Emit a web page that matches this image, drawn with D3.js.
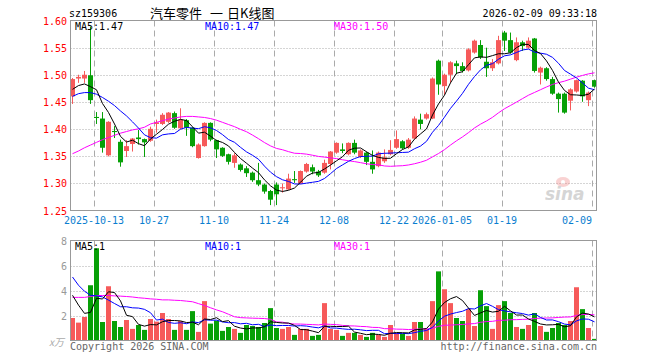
<!doctype html>
<html>
<head>
<meta charset="utf-8">
<script src="https://cdn.jsdelivr.net/npm/d3@7/dist/d3.min.js"></script>
<style>
  body { margin:0; background:#fff; }
  svg text { font-family:"DejaVu Sans Mono", monospace; font-size:10px; }
</style>
</head>
<body>
<div id="chart"></div>
<script>
// trading days shown (index 0 = 2025-09-29)
var dates = ["2025-09-29","2025-09-30","2025-10-09","2025-10-10",
  "2025-10-13","2025-10-14","2025-10-15","2025-10-16","2025-10-17",
  "2025-10-20","2025-10-21","2025-10-22","2025-10-23","2025-10-24",
  "2025-10-27","2025-10-28","2025-10-29","2025-10-30","2025-10-31",
  "2025-11-03","2025-11-04","2025-11-05","2025-11-06","2025-11-07",
  "2025-11-10","2025-11-11","2025-11-12","2025-11-13","2025-11-14",
  "2025-11-17","2025-11-18","2025-11-19","2025-11-20","2025-11-21",
  "2025-11-24","2025-11-25","2025-11-26","2025-11-27","2025-11-28",
  "2025-12-01","2025-12-02","2025-12-03","2025-12-04","2025-12-05",
  "2025-12-08","2025-12-09","2025-12-10","2025-12-11","2025-12-12",
  "2025-12-15","2025-12-16","2025-12-17","2025-12-18","2025-12-19",
  "2025-12-22","2025-12-23","2025-12-24","2025-12-25","2025-12-26",
  "2025-12-29","2025-12-30","2025-12-31",
  "2026-01-05","2026-01-06","2026-01-07","2026-01-08","2026-01-09",
  "2026-01-12","2026-01-13","2026-01-14","2026-01-15","2026-01-16",
  "2026-01-19","2026-01-20","2026-01-21","2026-01-22","2026-01-23",
  "2026-01-26","2026-01-27","2026-01-28","2026-01-29","2026-01-30",
  "2026-02-02","2026-02-03","2026-02-04","2026-02-05","2026-02-06",
  "2026-02-09"];

var open  = [1.461,1.494,1.494,1.500,1.423,1.420,1.352,1.397,1.377,1.360,
  1.373,1.385,1.382,1.379,1.410,1.410,1.414,1.430,1.402,1.417,
  1.403,1.347,1.369,1.412,1.380,1.366,1.354,1.338,1.335,1.328,
  1.320,1.306,1.298,1.286,1.298,1.291,1.289,1.308,1.300,1.322,
  1.330,1.322,1.320,1.336,1.357,1.363,1.354,1.375,1.349,1.357,
  1.340,1.332,1.341,1.354,1.366,1.378,1.366,1.383,1.418,1.420,
  1.420,1.527,1.480,1.501,1.522,1.517,1.509,1.542,1.556,1.525,
  1.513,1.522,1.579,1.565,1.528,1.561,1.551,1.568,1.505,1.513,
  1.493,1.466,1.466,1.453,1.470,1.490,1.454,1.491];
var close = [1.493,1.497,1.501,1.454,1.421,1.366,1.414,1.395,1.339,1.369,
  1.383,1.382,1.376,1.401,1.413,1.427,1.431,1.403,1.418,1.403,
  1.369,1.372,1.412,1.381,1.363,1.351,1.340,1.352,1.325,1.319,
  1.306,1.298,1.285,1.270,1.280,1.293,1.309,1.306,1.323,1.336,
  1.322,1.315,1.338,1.359,1.375,1.360,1.375,1.357,1.361,1.340,
  1.326,1.357,1.348,1.362,1.382,1.365,1.381,1.420,1.410,1.428,
  1.494,1.483,1.501,1.524,1.517,1.508,1.548,1.564,1.533,1.513,
  1.524,1.565,1.564,1.542,1.561,1.554,1.564,1.508,1.514,1.493,
  1.466,1.456,1.431,1.474,1.491,1.461,1.468,1.479];
var high  = [1.495,1.501,1.508,1.590,1.432,1.432,1.415,1.406,1.381,1.380,
  1.384,1.399,1.383,1.405,1.418,1.430,1.432,1.433,1.439,1.419,
  1.404,1.374,1.413,1.413,1.381,1.367,1.355,1.356,1.337,1.332,
  1.322,1.338,1.300,1.288,1.302,1.300,1.318,1.323,1.324,1.338,
  1.335,1.325,1.344,1.360,1.376,1.374,1.376,1.381,1.363,1.359,
  1.361,1.359,1.363,1.380,1.398,1.380,1.384,1.424,1.429,1.431,
  1.496,1.529,1.503,1.526,1.527,1.524,1.550,1.566,1.565,1.551,
  1.530,1.573,1.582,1.579,1.570,1.564,1.570,1.569,1.516,1.515,
  1.497,1.468,1.468,1.476,1.492,1.491,1.470,1.492];
var low   = [1.447,1.486,1.486,1.447,1.410,1.357,1.350,1.384,1.331,1.349,
  1.359,1.372,1.349,1.377,1.394,1.408,1.412,1.401,1.400,1.388,
  1.367,1.346,1.368,1.378,1.347,1.349,1.335,1.329,1.322,1.312,
  1.303,1.295,1.281,1.260,1.260,1.283,1.288,1.301,1.299,1.320,
  1.317,1.312,1.318,1.326,1.355,1.356,1.352,1.354,1.347,1.334,
  1.318,1.330,1.338,1.352,1.364,1.363,1.364,1.382,1.400,1.418,
  1.419,1.464,1.464,1.486,1.502,1.505,1.507,1.540,1.530,1.497,
  1.508,1.520,1.545,1.540,1.526,1.545,1.549,1.505,1.483,1.490,
  1.464,1.431,1.429,1.435,1.468,1.451,1.443,1.477];
// volume, 10k shares
var volume = [1.80,1.43,1.88,4.42,7.38,1.48,4.34,1.56,1.08,1.64,
  0.93,1.24,0.85,1.72,1.51,2.20,1.72,0.85,1.56,0.85,
  2.35,0.69,3.15,1.35,1.59,0.77,1.08,0.93,0.61,1.24,
  1.16,1.08,1.40,2.59,1.00,0.93,1.08,0.45,0.93,0.93,
  0.37,0.45,2.99,0.93,0.85,0.37,0.61,0.61,0.45,0.29,
  0.61,0.45,0.29,1.24,0.60,0.53,0.37,1.48,1.48,0.93,
  3.15,5.53,4.10,2.99,1.80,1.56,2.51,1.16,4.02,2.75,
  0.93,2.83,3.15,2.20,1.08,0.93,1.24,2.20,1.16,0.69,
  1.00,1.40,1.24,1.56,4.26,2.51,1.00,0.13];

// moving-average values at the left edge (history before the window)
var ma5Lead  = [1.474,1.481,1.484,1.479];
var ma10Lead = [1.461,1.466,1.468,1.468,1.465,1.459,1.452,1.444,1.434];
var ma30Lead = [1.355,1.360,1.366,1.371,1.376,1.381,1.385,1.389,1.393,1.396,
  1.399,1.401,1.404,1.410,1.413,1.416,1.419,1.421,1.423,1.424,
  1.424,1.423,1.422,1.420,1.417,1.413,1.409,1.405,1.400];
var vma5Lead  = [3.62,2.83,2.17,2.25];
var vma10Lead = [5.08,4.42,3.94,3.62,3.57,3.49,3.23,2.96,2.70];
var vma30Lead = [3.45,3.45,3.45,3.52,3.60,3.60,3.60,3.57,3.55,3.52,
  3.48,3.42,3.38,3.33,3.30,3.25,3.25,3.22,3.20,3.15,
  3.10,2.95,2.80,2.62,2.45,2.30,2.10,1.90,1.83];

var priceTicks = [1.60,1.55,1.50,1.45,1.40,1.35,1.30,1.25];
var volTicks = [8,6,4,2];
var dateTicks = ["2025-10-13","2025-10-27","2025-11-10","2025-11-24","2025-12-08",
  "2025-12-22","2026-01-05","2026-01-19","2026-02-09"];
var dateTickLabels = ["2025-10-13","10-27","11-10","11-24","12-08",
  "12-22","2026-01-05","01-19","02-09"];
// legend texts as printed on the chart
var priceLegend = ["MA5:1.47","MA10:1.47","MA30:1.50"];
var volLegend = ["MA5:1","MA10:1","MA30:1"];

var UP = "#f65a5a", DOWN = "#07a007";

function movingAvg(values, n, lead) {
  return values.map(function(v, i) {
    if (i < n - 1) return lead[i];
    return d3.mean(values.slice(i - n + 1, i + 1));
  });
}

var svg = d3.select("#chart").append("svg")
  .attr("width", 660).attr("height", 360);

var x = d3.scaleBand().domain(dates).range([69.8, 597.8])
  .paddingInner(1/6).paddingOuter(1/12);
var bx = function(d) { return Math.round(x(d)); };
var cx = function(d) { return Math.round(x(d)) + 2.5; };

var y = d3.scaleLinear().domain([1.25, 1.60]).range([210.5, 21.2]);
var vy = d3.scaleLinear().domain([0, 8]).range([340.5, 240.5]);

var L = 70.5, R = 596.5;

// titles
svg.append("text").attr("x", 69).attr("y", 17).text("sz159306");
var cjk = function(t, x0) {
  svg.append("text").attr("x", x0).attr("y", 18)
    .style("font-family", "'Noto Sans CJK SC'").style("font-size", "13px")
    .text(t);
};
cjk("汽车零件", 150);
cjk("一", 210);
cjk("日K线图", 227);
svg.append("text").attr("x", 597).attr("y", 17).attr("text-anchor", "end")
  .text("2026-02-09 09:33:18");

// grids
function hgrid(scale, ticks) {
  svg.append("g").selectAll("line").data(ticks).join("line")
    .attr("x1", L).attr("x2", R)
    .attr("y1", function(d) { return Math.round(scale(d)) + 0.5; })
    .attr("y2", function(d) { return Math.round(scale(d)) + 0.5; })
    .attr("stroke", "#aaa").attr("stroke-dasharray", "1,2");
}
hgrid(y, [1.55,1.50,1.45,1.40,1.35,1.30]);
hgrid(vy, [6,4,2]);

[[20.5, 210.5], [240.5, 340.5]].forEach(function(p) {
  svg.append("g").selectAll("line").data(dateTicks).join("line")
    .attr("x1", function(d) { return bx(d) + 0.5; })
    .attr("x2", function(d) { return bx(d) + 0.5; })
    .attr("y1", p[0]).attr("y2", p[1])
    .attr("stroke", "#aaa").attr("stroke-dasharray", "6,4");
});

// price labels
svg.append("g").selectAll("text").data(priceTicks).join("text")
  .attr("x", 67).attr("y", function(d) { return y(d) + 4; })
  .attr("text-anchor", "end").attr("fill", "#f00")
  .text(function(d) { return d.toFixed(2); });

svg.append("g").selectAll("text").data(volTicks).join("text")
  .attr("x", 67).attr("y", function(d) { return vy(d) + 4; })
  .attr("text-anchor", "end").attr("fill", "#999")
  .text(function(d) { return d; });
svg.append("text").attr("x", 64).attr("y", 346).attr("text-anchor", "end")
  .attr("fill", "#aaa").style("font-family", "'Noto Sans CJK SC'")
  .style("font-style", "italic").text("x万");

// date labels
svg.append("g").selectAll("text").data(dateTicks).join("text")
  .attr("x", function(d, i) {
    var w = dateTickLabels[i].length * 6.02;
    return Math.min(bx(d) - w / 2, 592 - w);
  })
  .attr("y", 224).attr("fill", "#0a7ed0")
  .text(function(d, i) { return dateTickLabels[i]; });

// sina watermark
var wm = svg.append("g").attr("opacity", 0.35);
wm.append("ellipse").attr("cx", 563).attr("cy", 182).attr("rx", 7).attr("ry", 5)
  .attr("fill", "#f08080");
wm.append("circle").attr("cx", 563).attr("cy", 182).attr("r", 2).attr("fill", "#fff");
wm.append("text").attr("x", 545).attr("y", 200)
  .style("font-family", "'DejaVu Sans'").style("font-size", "17px")
  .style("font-weight", "bold").style("font-style", "italic")
  .attr("fill", "#888").text("sina");

// candles
var idx = d3.range(dates.length);
var g = svg.append("g");
g.selectAll("line").data(idx).join("line")
  .attr("x1", function(i) { return cx(dates[i]); })
  .attr("x2", function(i) { return cx(dates[i]); })
  .attr("y1", function(i) { return y(high[i]); })
  .attr("y2", function(i) { return y(low[i]); })
  .attr("stroke", function(i) { return close[i] >= open[i] ? UP : DOWN; });
g.selectAll("rect").data(idx).join("rect")
  .attr("x", function(i) { return bx(dates[i]); })
  .attr("width", x.bandwidth())
  .attr("y", function(i) { return y(Math.max(open[i], close[i])); })
  .attr("height", function(i) { return Math.max(1, Math.abs(y(open[i]) - y(close[i]))); })
  .attr("fill", function(i) { return close[i] >= open[i] ? UP : DOWN; });

// volume bars
svg.append("g").selectAll("rect").data(idx).join("rect")
  .attr("x", function(i) { return bx(dates[i]); })
  .attr("width", x.bandwidth())
  .attr("y", function(i) { return vy(volume[i]); })
  .attr("height", function(i) { return vy(0) - vy(volume[i]); })
  .attr("fill", function(i) { return close[i] >= open[i] ? UP : DOWN; });

// moving averages
function maLine(vals, scale, color) {
  svg.append("path").datum(vals)
    .attr("fill", "none").attr("stroke", color).attr("stroke-width", 1)
    .attr("d", d3.line()
      .x(function(d, i) { return cx(dates[i]); })
      .y(function(d) { return scale(d); }));
}
maLine(movingAvg(close, 30, ma30Lead), y, "#f0f");
maLine(movingAvg(close, 10, ma10Lead), y, "#00f");
maLine(movingAvg(close, 5, ma5Lead), y, "#000");
maLine(movingAvg(volume, 30, vma30Lead), vy, "#f0f");
maLine(movingAvg(volume, 10, vma10Lead), vy, "#00f");
maLine(movingAvg(volume, 5, vma5Lead), vy, "#000");

// frames
svg.append("rect").attr("x", L).attr("y", 20.5).attr("width", R - L).attr("height", 190)
  .attr("fill", "none").attr("stroke", "#999");
svg.append("rect").attr("x", L).attr("y", 240.5).attr("width", R - L).attr("height", 100)
  .attr("fill", "none").attr("stroke", "#999");

// legends
var legendX = [75, 205, 334], legendColor = ["#000", "#00f", "#f0f"];
priceLegend.forEach(function(t, k) {
  svg.append("text").attr("x", legendX[k]).attr("y", 30)
    .attr("fill", legendColor[k]).text(t);
});
volLegend.forEach(function(t, k) {
  svg.append("text").attr("x", legendX[k]).attr("y", 250)
    .attr("fill", legendColor[k]).text(t);
});

// footer
svg.append("text").attr("x", 70).attr("y", 350).attr("fill", "#666")
  .text("Copyright 2026 SINA.COM");
svg.append("text").attr("x", 597).attr("y", 350).attr("text-anchor", "end")
  .attr("fill", "#666").text("http://finance.sina.com.cn");
</script>
</body>
</html>
